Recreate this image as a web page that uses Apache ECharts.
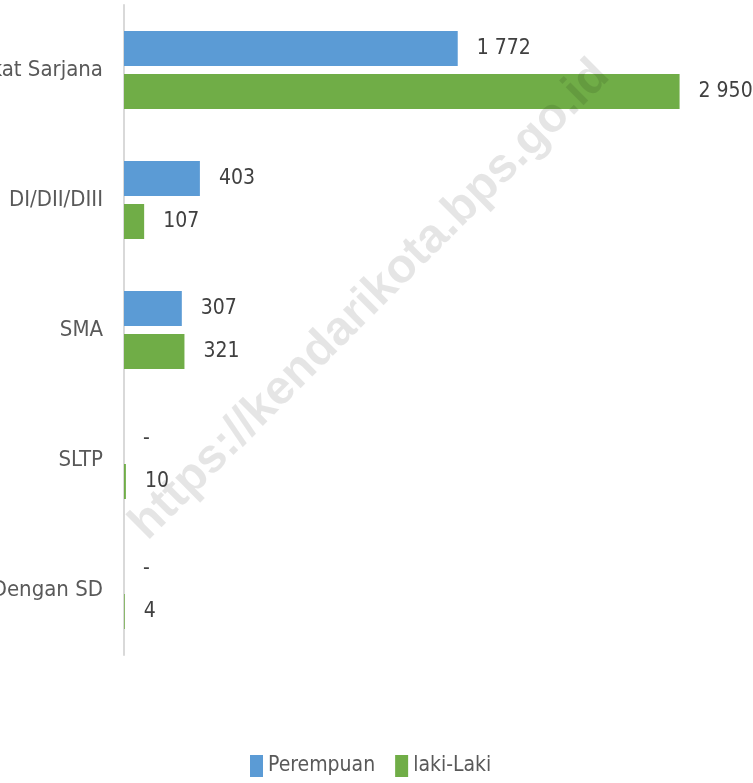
<!DOCTYPE html>
<html>
<head>
    <meta charset="utf-8">
    <title>Pendidikan</title>
    <style>
        html, body { margin: 0; padding: 0; background: #fff; }
        #chart1 { width: 753px; height: 783px; }
    </style>
</head>
<body>
<div id="chart1"></div>
<script src="https://cdn.jsdelivr.net/npm/echarts@6/dist/echarts.min.js"></script>
<script type="text/javascript">
    // data (top to bottom as shown)
    let categories = ['Tingkat Sarjana', 'DI/DII/DIII', 'SMA', 'SLTP', 'Sampai Dengan SD'];
    let perempuan = [1772, 403, 307, 0, 0];
    let lakiLaki = [2950, 107, 321, 10, 4];
    let seriesNames = ['Perempuan', 'laki-Laki'];

    let myChart1 = echarts.init(document.getElementById('chart1'));

    let font = "'DejaVu Sans Condensed', 'Liberation Sans Narrow', sans-serif";

    // 0 means no data -> shown as "-"
    function fmt(p) {
        if (!p.value) return '-';
        return String(p.value).replace(/\B(?=(\d{3})+(?!\d))/g, ' ');
    }

    let labelStyle = {
        show: true,
        position: 'right',
        distance: 19,
        formatter: fmt,
        color: '#404040',
        fontSize: 21,
        fontFamily: font
    };

    myChart1.setOption({
        animation: false,
        grid: {
            left: 124,
            top: 5,
            bottom: 128,
            width: 565,
            containLabel: false,
            outerBoundsMode: 'none'
        },
        legend: {
            bottom: 1,
            left: 245,
            itemWidth: 13,
            itemHeight: 22,
            itemGap: 20,
            icon: 'rect',
            textStyle: { color: '#595959', fontSize: 21, fontFamily: font },
            data: seriesNames
        },
        xAxis: {
            type: 'value',
            min: 0,
            max: 3000,
            show: false
        },
        yAxis: {
            type: 'category',
            inverse: true,
            data: categories,
            axisLine: { lineStyle: { color: '#d9d9d9', width: 2 } },
            axisTick: { show: false },
            axisLabel: {
                margin: 21,
                color: '#595959',
                fontSize: 22,
                fontFamily: font
            }
        },
        series: [
            {
                name: seriesNames[0],
                type: 'bar',
                barWidth: 35,
                barGap: '23%',
                data: perempuan,
                itemStyle: { color: '#5b9bd5' },
                label: labelStyle
            },
            {
                name: seriesNames[1],
                type: 'bar',
                barWidth: 35,
                data: lakiLaki,
                itemStyle: { color: '#70ad47' },
                label: labelStyle
            }
        ],
        graphic: [
            {
                type: 'text',
                x: 370,
                y: 300,
                rotation: Math.PI / 4,
                z: 100,
                style: {
                    text: 'https://kendarikota.bps.go.id',
                    textAlign: 'center',
                    textVerticalAlign: 'middle',
                    fill: 'rgba(0,0,0,0.1)',
                    font: "bold 48px 'Liberation Sans', Arial, sans-serif"
                }
            }
        ]
    });
</script>
</body>
</html>
